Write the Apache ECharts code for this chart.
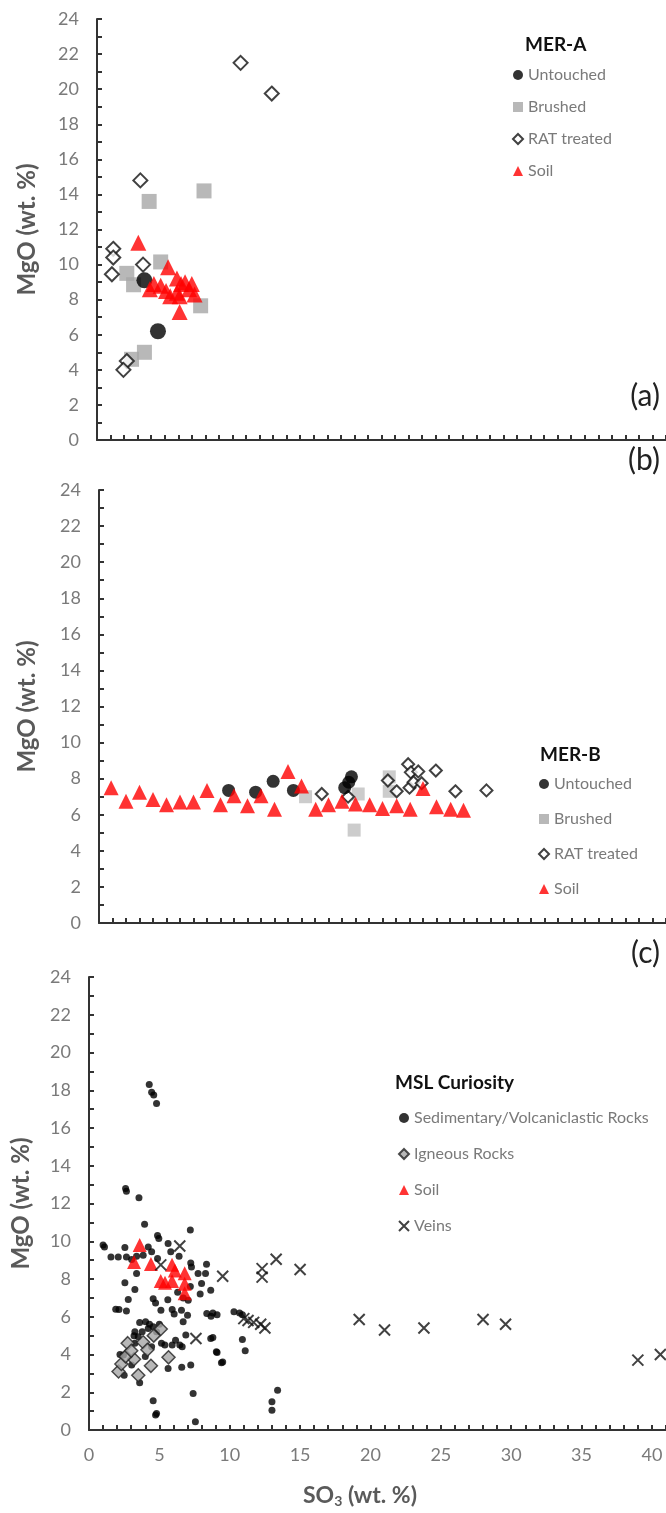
<!DOCTYPE html>
<html>
<head>
<meta charset="utf-8">
<script src="https://cdn.jsdelivr.net/npm/echarts@6/dist/echarts.min.js"></script>
<style>
html,body{margin:0;padding:0;background:#fff;}
#c{width:666px;height:1513px;}
</style>
</head>
<body>
<div id="c"></div>
<script>
// ---------- DATA ----------
// Panel (a) MER-A  [SO3, MgO]
const aUntouched = [[3.5,9.1],[4.5,6.2]];
const aBrushed = [[3.85,13.6],[7.9,14.2],[4.7,10.15],[2.2,9.5],[2.7,8.85],[7.65,7.65],[3.5,5.0],[2.55,4.6]];
const aRAT = [[10.6,21.5],[12.9,19.75],[3.2,14.8],[1.2,10.9],[1.2,10.4],[1.1,9.45],[3.4,10.0],[2.2,4.5],[1.95,4.0]];
const aSoil = [[3.05,11.25],[5.25,9.85],[3.9,8.6],[4.2,8.9],[4.7,8.8],[5.1,8.5],[5.4,8.2],[5.9,8.4],[5.9,9.2],[6.2,8.9],[6.5,9.0],[6.8,8.6],[7.2,8.3],[7.0,8.9],[6.1,8.2],[6.1,7.3]];

// Panel (b) MER-B
const bUntouched = [[9.6,7.35],[11.6,7.25],[12.9,7.85],[14.4,7.35],[18.7,8.1],[18.5,7.8],[18.2,7.5]];
const bBrushed = [[15.3,7.0],[19.2,7.15],[18.9,5.15],[21.5,8.1],[21.5,7.3]];
const bRAT = [[16.5,7.15],[18.45,7.0],[22.9,8.8],[23.1,8.35],[23.65,8.4],[24.95,8.45],[21.4,7.9],[22.05,7.3],[23.0,7.5],[23.3,7.8],[23.9,7.75],[26.4,7.3],[28.7,7.35]];
const bSoil = [[0.9,7.5],[2.0,6.75],[3.0,7.25],[4.0,6.85],[5.0,6.55],[6.0,6.7],[7.0,6.7],[8.0,7.35],[9.0,6.55],[10.0,7.05],[11.0,6.5],[12.0,7.05],[13.0,6.3],[14.0,8.4],[15.0,7.6],[16.05,6.3],[17.0,6.55],[18.0,6.75],[19.0,6.6],[20.05,6.55],[21.0,6.35],[22.05,6.5],[23.05,6.3],[24.0,7.45],[25.0,6.45],[26.05,6.3],[27.0,6.25]];

// Panel (c) MSL Curiosity
const cSed = [
[2.6,12.8],[2.66,12.65],[3.55,12.3],[3.95,10.9],[4.87,10.3],[4.96,10.15],[7.2,10.6],
[1.0,9.8],[1.1,9.7],[1.56,9.17],[2.08,9.17],[2.55,9.67],[2.66,9.17],[3.03,9.03],[3.38,9.2],[3.85,9.26],[4.21,9.7],[4.45,9.44],[4.87,9.08],[5.62,9.88],[5.81,9.44],[6.4,9.2],[7.23,8.85],[7.28,8.64],[7.75,8.29],[8.35,8.78],[8.28,8.29],[8.0,7.76],[8.65,7.41],[10.3,6.26],
[3.38,8.29],[2.55,7.8],[3.26,7.44],[2.79,6.91],[4.56,6.96],[4.73,6.73],[2.13,6.38],[2.66,6.31],[5.11,6.35],[5.91,6.38],[6.05,6.14],[6.57,6.35],[6.69,5.73],[7.0,6.08],[8.37,6.17],[8.67,6.03],[7.05,6.88],
[4.02,5.73],[3.26,5.2],[3.5,4.94],[3.78,5.2],[4.21,5.38],[4.56,5.47],[4.8,5.2],[5.15,4.59],[5.39,4.5],[5.91,4.5],[6.15,4.76],[6.45,4.5],[6.62,4.41],[6.88,5.03],[8.65,4.85],[9.05,4.14],[9.41,3.56],[6.59,3.32],[5.62,3.26],[7.23,3.44],[3.6,2.5],[4.56,1.55],[4.73,0.79],[4.8,0.88],[7.4,1.94],[7.56,0.44],[3.03,3.44],[2.45,3.97],[3.26,4.59],[4.0,3.9],[4.45,4.41],
[4.28,18.3],[4.45,17.9],[4.6,17.75],[4.8,17.3],
[8.8,6.2],[9.1,6.1],[8.8,4.9],[9.1,4.1],[9.5,3.6],[10.7,6.2],[10.9,6.1],[10.9,4.8],[11.1,4.2],[13.0,1.5],[13.0,1.05],[13.4,2.1],
[2.2,4.0],[2.5,2.9],[3.2,5.0],[3.6,5.7],[4.3,5.6],[5.0,5.6],[5.6,6.9],[6.3,7.3],[6.7,7.0],[7.2,7.6],[7.9,7.2],[1.9,6.4]
];
const cIgneous = [[2.1,3.1],[2.3,3.5],[2.75,4.6],[3.2,3.75],[3.5,2.9],[3.85,4.65],[4.15,4.25],[4.4,3.4],[5.1,5.35],[5.65,3.85],[2.6,3.9],[4.6,5.0],[3.0,4.2]];
const cSoil = [[3.6,9.8],[3.2,8.9],[4.4,8.8],[5.1,7.9],[5.9,8.75],[5.9,7.9],[6.1,8.45],[6.8,8.3],[6.8,7.75],[6.8,7.25],[5.4,7.8]];
const cVeins = [[6.45,9.75],[5.1,8.75],[9.5,8.15],[12.3,8.55],[12.3,8.1],[13.3,9.05],[15.0,8.5],[7.6,4.85],[11.0,5.9],[11.3,5.8],[11.7,5.7],[12.2,5.6],[12.5,5.4],[19.2,5.85],[21.0,5.3],[23.8,5.4],[28.0,5.85],[29.6,5.6],[39.0,3.7],[40.6,4.0]];

const yTicks = [0,2,4,6,8,10,12,14,16,18,20,22,24];
const xTicks = [0,5,10,15,20,25,30,35,40];
const namesMER = ['Untouched','Brushed','RAT treated','Soil'];
const namesMSL = ['Sedimentary/Volcaniclastic Rocks','Igneous Rocks','Soil','Veins'];

// ---------- STYLE ----------
const FONT = 'Lato';
const AX = '#333333';
const LBL = '#7a7a7a';
const NAMEC = '#5a5a5a';
const RED = '#ff0000';
const XPATH = 'path://M0,0L10,10M10,0L0,10';

function yAxis(gi, gap){
  return {type:'value', gridIndex:gi, min:0, max:24, interval:1,
    name:'MgO (wt. %)', nameLocation:'middle', nameGap:gap,
    nameTextStyle:{fontFamily:FONT, fontWeight:'bold', fontSize:24, color:NAMEC},
    axisLine:{show:true, lineStyle:{color:AX, width:2}},
    axisTick:{show:true, inside:true, length:5, lineStyle:{color:AX, width:2}},
    axisLabel:{margin:18, fontFamily:FONT, fontSize:18, color:LBL,
      formatter:v=> yTicks.indexOf(v)>=0 ? String(v) : ''},
    splitLine:{show:false}};
}
function xAxis(gi, max, showLabels){
  return {type:'value', gridIndex:gi, min:0, max:max, interval:1,
    axisLine:{show:true, onZero:false, lineStyle:{color:AX, width:2}},
    axisTick:{show:true, inside:true, length:5, lineStyle:{color:AX, width:2}},
    axisLabel:{show:showLabels, margin:16, fontFamily:FONT, fontSize:18, color:LBL,
      formatter:v=> xTicks.indexOf(v)>=0 ? String(v) : ''},
    splitLine:{show:false}};
}
function sc(name, data, gi, sym, size, style, z){
  return {type:'scatter', name, data, xAxisIndex:gi, yAxisIndex:gi,
    symbol:sym, symbolSize:size, itemStyle:style, z:z||2, clip:false,
    emphasis:{disabled:true}};
}
function legend(left, top, gap, names){
  return {orient:'vertical', left, top, itemWidth:10, itemHeight:10, itemGap:gap,
    selectedMode:false, data:names,
    textStyle:{fontFamily:FONT, fontSize:16, color:'#7a7a7a'}};
}
function ttl(text, left, top){
  return {text, left, top, textStyle:{fontFamily:FONT, fontWeight:'bold', fontSize:19, color:'#111'}};
}

const option = {
  animation:false,
  backgroundColor:'#ffffff',
  title:[ttl('MER-A',520,30), ttl('MER-B',535,740), ttl('MSL Curiosity',390,1068)],
  legend:[legend(507,62,16,namesMER), legend(533,771,19,namesMER), legend(393,1105,20,namesMSL)],
  grid:[
    {left:97, top:19, height:421, right:0, outerBoundsMode:'none'},
    {left:99, top:490, height:433, right:0, outerBoundsMode:'none'},
    {left:89, top:977, height:453, right:0, outerBoundsMode:'none'}
  ],
  xAxis:[xAxis(0,42,false), xAxis(1,42,false), xAxis(2,41,true)],
  yAxis:[yAxis(0,58), yAxis(1,60), yAxis(2,56)],
  series:[
    sc('Brushed', aBrushed, 0, 'rect', 15, {color:'#a6a6a6'}, 2),
    sc('RAT treated', aRAT, 0, 'diamond', 14, {color:'#fff', borderColor:'#111', borderWidth:2}, 3),
    sc('Untouched', aUntouched, 0, 'circle', 16, {color:'#000'}, 4),
    sc('Soil', aSoil, 0, 'triangle', 16, {color:RED}, 5),

    sc('Brushed', bBrushed, 1, 'rect', 13, {color:'#bfbfbf'}, 2),
    sc('RAT treated', bRAT, 1, 'diamond', 12, {color:'#fff', borderColor:'#111', borderWidth:2}, 3),
    sc('Untouched', bUntouched, 1, 'circle', 13, {color:'#000'}, 4),
    sc('Soil', bSoil, 1, 'triangle', 15, {color:RED}, 5),

    sc('Sedimentary/Volcaniclastic Rocks', cSed, 2, 'circle', 7, {color:'#000'}, 2),
    sc('Igneous Rocks', cIgneous, 2, 'diamond', 13, {color:'#a6a6a6', borderColor:'#222', borderWidth:1.5}, 3),
    sc('Soil', cSoil, 2, 'triangle', 14, {color:RED}, 4),
    sc('Veins', cVeins, 2, XPATH, 11, {color:'rgba(0,0,0,0)', borderColor:'#111', borderWidth:2}, 5)
  ],
  graphic:[
    {type:'text', right:6, top:381, style:{text:'(a)', fontFamily:FONT, fontSize:30, fill:'#222'}},
    {type:'text', right:6, top:445, style:{text:'(b)', fontFamily:FONT, fontSize:30, fill:'#222'}},
    {type:'text', right:6, top:938, style:{text:'(c)', fontFamily:FONT, fontSize:30, fill:'#222'}},
    {type:'text', left:303, top:1484, style:{
      text:'{n|SO}{s|3}{n| (wt. %)}',
      rich:{n:{fontFamily:FONT, fontWeight:'bold', fontSize:23, fill:NAMEC, color:NAMEC},
            s:{fontFamily:FONT, fontWeight:'bold', fontSize:14, fill:NAMEC, color:NAMEC, padding:[11,0,0,0]}}}}
  ]
};

const chart = echarts.init(document.getElementById('c'), null, {renderer:'canvas'});
chart.setOption(option);
</script>
</body>
</html>
